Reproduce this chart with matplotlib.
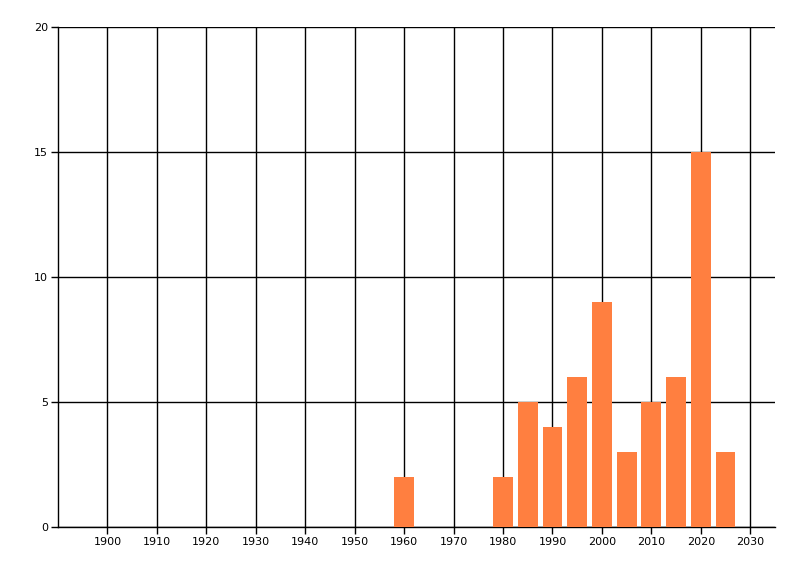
import matplotlib
matplotlib.use("Agg")
import matplotlib.pyplot as plt

# data
years = [1960, 1980, 1985, 1990, 1995, 2000, 2005, 2010, 2015, 2020, 2025]
counts = [2, 2, 5, 4, 6, 9, 3, 5, 6, 15, 3]
xticks = list(range(1900, 2031, 10))
yticks = [0, 5, 10, 15, 20]

fig = plt.figure(figsize=(8, 5.76), dpi=100)
ax = fig.add_axes([58 / 800, 49 / 576, (775 - 58) / 800, (527 - 27) / 576])

ax.bar(years, counts, width=4, color="#ff7f40", zorder=3)

ax.set_xlim(1890, 2035)
ax.set_ylim(0, 20)
ax.set_xticks(xticks)
ax.set_yticks(yticks)
ax.grid(True, color="black", linewidth=1.0)
ax.set_axisbelow(True)

for side in ["top", "right"]:
    ax.spines[side].set_visible(False)
for side in ["left", "bottom"]:
    ax.spines[side].set_linewidth(1.0)

ax.tick_params(axis="both", length=5, width=1.0, labelsize=8, color="black", pad=2)

fig.savefig("out.png", dpi=100)
